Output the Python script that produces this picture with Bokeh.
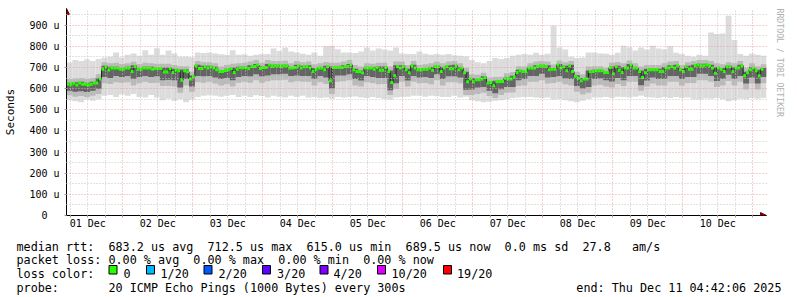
import numpy as np
from bokeh.plotting import figure
from bokeh.models import Range1d, FixedTicker, Arrow, NormalHead, Title
from bokeh.embed import file_html
from bokeh.resources import INLINE
from bokeh.core.properties import value

# ---------------- data ----------------
# time axis in days since 2025-12-01 00:00 ; graph ends Thu Dec 11 04:42:06 2025
END_DAY = 10 + (4 + 42 / 60 + 6 / 3600) / 24
START_DAY = END_DAY - 10
Y_MAX = 955

day_labels = ["01 Dec", "02 Dec", "03 Dec", "04 Dec", "05 Dec",
              "06 Dec", "07 Dec", "08 Dec", "09 Dec", "10 Dec"]

y_ticks = [0, 100, 200, 300, 400, 500, 600, 700, 800, 900]
y_tick_labels = ["0\u00a0\u00a0", "100 u", "200 u", "300 u", "400 u",
                 "500 u", "600 u", "700 u", "800 u", "900 u"]

# hourly median rtt (microseconds), 240 steps
median_us = [
    621, 621, 625, 617, 626, 621, 621, 617, 621, 626, 626,
    645, 692, 703, 688, 697, 697, 697, 692, 692, 697,
    697, 681, 705, 692, 692, 697, 697, 697, 692, 695,
    695, 695, 678, 678, 695, 676, 689, 684, 640, 684,
    680, 645, 656, 708, 695, 695, 703, 697, 703, 697,
    689, 681, 681, 686, 689, 695, 676, 692, 698, 698,
    698, 695, 705, 705, 711, 695, 700, 700, 711, 705,
    708, 708, 705, 708, 708, 697, 697, 700, 708, 697,
    703, 705, 697, 681, 692, 697, 697, 689, 703, 637,
    700, 700, 700, 700, 705, 705, 711, 689, 681, 681,
    675, 697, 697, 697, 692, 700, 687, 687, 700, 681,
    629, 661, 705, 697, 705, 689, 675, 708, 697, 689,
    689, 692, 692, 697, 687, 705, 705, 681, 697, 705,
    694, 694, 708, 689, 697, 675, 632, 645, 632, 642,
    642, 645, 653, 626, 629, 613, 632, 634, 634, 649,
    645, 645, 656, 676, 684, 681, 681, 697, 697, 697,
    705, 708, 708, 705, 689, 692, 692, 711, 697, 703,
    684, 708, 681, 658, 649, 637, 645, 645, 681, 681,
    684, 684, 684, 676, 676, 700, 670, 703, 687, 676,
    697, 697, 711, 697, 697, 681, 653, 675, 689, 689,
    689, 689, 681, 681, 697, 697, 705, 697, 708, 689,
    681, 703, 692, 692, 708, 713, 708, 708, 713, 708,
    697, 673, 697, 692, 681, 703, 703, 681, 697, 697,
    708, 661, 675, 689, 697, 684, 661, 692, np.nan,
]

# smoke (ping spread), 2-hour blocks, 120 steps
smoke_max = [
    723, 735, 731, 739, 731, 740, 747, 750, 771, 747,
    760, 766, 755, 781, 760, 791, 760, 780, 766, 750,
    750, 748, 771, 768, 771, 766, 762, 760, 781, 760,
    762, 755, 760, 763, 763, 790, 778, 794, 775, 771,
    765, 760, 771, 755, 800, 802, 786, 771, 771, 768,
    775, 794, 780, 790, 785, 780, 794, 766, 763, 763,
    775, 765, 760, 763, 760, 763, 758, 755, 752, 735,
    725, 720, 730, 745, 740, 745, 755, 760, 763, 760,
    770, 760, 765, 897, 794, 785, 750, 745, 747, 771,
    771, 766, 765, 760, 770, 802, 796, 780, 794, 785,
    802, 790, 786, 800, 770, 763, 755, 750, 760, 755,
    865, 858, 860, 944, 830, 763, 755, 765, 760, 755,
]
smoke_min = [
    545, 540, 535, 548, 543, 550, 566, 570, 560, 572,
    566, 574, 560, 558, 570, 558, 545, 552, 543, 550,
    535, 548, 560, 566, 568, 566, 562, 566, 570, 560,
    566, 560, 568, 565, 558, 566, 562, 558, 566, 560,
    566, 558, 560, 555, 558, 552, 560, 558, 560, 563,
    558, 555, 560, 556, 551, 548, 558, 560, 562, 566,
    566, 562, 566, 564, 560, 560, 566, 558, 562, 545,
    540, 535, 538, 543, 545, 550, 555, 558, 560, 560,
    558, 555, 558, 548, 551, 545, 540, 535, 543, 551,
    558, 558, 560, 556, 562, 560, 558, 562, 566, 560,
    558, 555, 560, 556, 560, 555, 558, 550, 548, 553,
    552, 556, 550, 540, 545, 552, 550, 556, 552, 555,
]
mid_hi = [
    645, 648, 650, 645, 650, 668, 725, 720, 722, 716,
    720, 727, 716, 722, 720, 718, 718, 718, 712, 706,
    706, 680, 730, 725, 725, 720, 705, 712, 718, 720,
    722, 728, 735, 722, 735, 730, 730, 732, 720, 730,
    725, 728, 715, 720, 726, 722, 722, 728, 735, 712,
    705, 720, 718, 722, 722, 705, 728, 728, 712, 730,
    712, 715, 720, 728, 720, 728, 730, 720, 698, 668,
    665, 675, 652, 655, 656, 672, 678, 706, 704, 720,
    728, 730, 728, 714, 733, 725, 730, 680, 668, 704,
    706, 706, 698, 722, 726, 720, 733, 720, 704, 712,
    712, 712, 720, 728, 730, 712, 725, 730, 735, 735,
    730, 720, 715, 725, 720, 730, 698, 720, 706, 715,
]
mid_lo = [
    568, 562, 565, 560, 566, 575, 625, 622, 630, 628,
    630, 615, 625, 632, 626, 628, 612, 612, 610, 580,
    615, 585, 630, 628, 632, 624, 615, 620, 610, 628,
    632, 628, 640, 628, 635, 640, 640, 642, 630, 635,
    632, 632, 615, 630, 622, 575, 632, 635, 640, 615,
    610, 630, 626, 620, 622, 570, 598, 632, 610, 632,
    625, 626, 620, 640, 615, 630, 630, 625, 570, 570,
    575, 580, 565, 556, 570, 580, 582, 612, 615, 632,
    632, 640, 624, 626, 632, 620, 615, 585, 572, 580,
    615, 618, 610, 605, 622, 612, 632, 632, 590, 610,
    624, 615, 615, 632, 632, 615, 626, 626, 640, 640,
    632, 608, 615, 636, 615, 632, 596, 624, 596, 625,
]
dark_hi = [
    628, 630, 632, 628, 632, 650, 708, 703, 703, 698,
    703, 710, 698, 703, 703, 700, 700, 700, 694, 690,
    690, 662, 713, 708, 708, 703, 688, 694, 700, 703,
    703, 710, 716, 705, 716, 713, 713, 713, 702, 713,
    708, 710, 697, 702, 708, 705, 705, 710, 716, 694,
    686, 702, 702, 705, 705, 686, 710, 710, 694, 713,
    694, 697, 702, 710, 702, 710, 713, 702, 680, 650,
    648, 658, 634, 637, 640, 654, 661, 689, 686, 702,
    710, 713, 710, 697, 716, 708, 713, 663, 650, 686,
    689, 689, 681, 705, 708, 702, 716, 702, 686, 694,
    694, 694, 702, 710, 713, 694, 708, 713, 718, 718,
    713, 702, 697, 708, 702, 713, 680, 702, 689, 697,
]
dark_lo = [
    590, 585, 588, 584, 590, 598, 655, 650, 660, 655,
    660, 645, 655, 660, 655, 658, 640, 642, 640, 605,
    645, 610, 660, 658, 660, 652, 645, 650, 640, 655,
    660, 658, 668, 658, 662, 668, 668, 670, 660, 662,
    660, 660, 645, 660, 652, 600, 662, 662, 668, 645,
    638, 660, 655, 650, 650, 592, 625, 660, 638, 660,
    652, 655, 650, 668, 645, 658, 658, 652, 595, 596,
    605, 608, 590, 578, 597, 608, 608, 640, 645, 660,
    660, 670, 652, 655, 660, 648, 645, 612, 600, 608,
    645, 648, 640, 633, 650, 640, 660, 660, 616, 638,
    652, 645, 645, 660, 660, 645, 655, 655, 670, 670,
    660, 636, 645, 665, 645, 660, 624, 652, 624, 655,
]

loss_labels = ["0", "1/20", "2/20", "3/20", "4/20", "10/20", "19/20"]
loss_colors = ["#26ff00", "#00b8ff", "#0059ff", "#5e00ff", "#7e00ff", "#dd00ff", "#ff0000"]

legend_lines = [
    "median rtt:  683.2 us avg  712.5 us max  615.0 us min  689.5 us now  0.0 ms sd  27.8   am/s",
    "packet loss: 0.00 % avg  0.00 % max  0.00 % min  0.00 % now",
    "loss color:",
    "probe:       20 ICMP Echo Pings (1000 Bytes) every 300s",
]
end_text = "end: Thu Dec 11 04:42:06 2025"
watermark = "RRDTOOL / TOBI OETIKER"

assert len(median_us) == 240
for arr in (smoke_max, smoke_min, mid_hi, mid_lo, dark_hi, dark_lo):
    assert len(arr) == 120

MONO = "DejaVu Sans Mono"
NB = "\u00a0"
LEG_FS = "11.75px"

# ---------------- layout geometry (pixels) ----------------
W = 797
H1 = 238                      # chart part
H2 = 297 - H1                 # legend part
F_LEFT, F_RIGHT, F_TOP, F_BOTTOM = 66, 766, 8, 215
PX_PER_UNIT = 202 / Y_MAX     # 955 us spans 202 px
Y_TOP = (F_BOTTOM - F_TOP) / PX_PER_UNIT

p = figure(width=W, height=H1, x_range=Range1d(START_DAY, END_DAY),
           y_range=Range1d(0, Y_TOP), output_backend="svg", toolbar_location=None,
           min_border_left=F_LEFT, min_border_right=W - F_RIGHT,
           min_border_top=F_TOP, min_border_bottom=H1 - F_BOTTOM,
           outline_line_color=None,
           background_fill_color="white", border_fill_color="white")

hour = np.arange(len(median_us))
h_left = START_DAY + hour / 24.0
h_right = h_left + 1 / 24.0
blk = np.arange(len(smoke_max))
b_left = START_DAY + blk * 2 / 24.0
b_right = b_left + 2 / 24.0

p.quad(left=b_left, right=b_right, bottom=smoke_min, top=smoke_max,
       fill_color="#dcdcdc", line_color=None)
p.quad(left=b_left, right=b_right, bottom=mid_lo, top=mid_hi,
       fill_color="#bababa", line_color=None)
p.quad(left=b_left, right=b_right, bottom=dark_lo, top=dark_hi,
       fill_color="#646464", line_color=None)

med = np.array(median_us, dtype=float)
xs = np.column_stack([h_left, h_right]).ravel()
ys = np.repeat(med, 2)
p.line(xs, ys, line_color="#202020", line_width=1)
p.segment(x0=h_left, y0=med, x1=h_right, y1=med, line_color=loss_colors[0],
          line_width=3, line_cap="butt")

# grids
major_days = list(range(1, 11))
minor_days = [k / 4 for k in range(1, 41) if k % 4 != 0]
p.xgrid.ticker = FixedTicker(ticks=major_days, minor_ticks=minor_days)
p.ygrid.ticker = FixedTicker(ticks=y_ticks[1:], minor_ticks=[v + 50 for v in y_ticks])
for g in (p.xgrid[0], p.ygrid[0]):
    g.grid_line_color = "#eaa0a0"
    g.grid_line_dash = "1 2"
    g.grid_line_width = 1
    g.minor_grid_line_color = "#c4c4c4"
    g.minor_grid_line_dash = "1 2"
    g.minor_grid_line_width = 1
    g.level = "overlay"

# axes
label_pos = [d + 0.5 for d in range(len(day_labels))]
xa = p.xaxis[0]
xa.ticker = FixedTicker(ticks=label_pos, minor_ticks=sorted(minor_days + major_days))
xa.major_label_overrides = {pos: lab for pos, lab in zip(label_pos, day_labels)}
xa.major_tick_line_color = None
xa.major_tick_in = 0
xa.major_tick_out = 0
xa.minor_tick_in = 0
xa.minor_tick_out = 2
xa.minor_tick_line_color = "#999999"
xa.major_label_standoff = 0
xa.major_label_text_font = MONO
xa.major_label_text_font_size = "10px"
xa.major_label_text_color = "black"
xa.axis_line_color = "black"

ya = p.yaxis[0]
ya.ticker = FixedTicker(ticks=y_ticks)
ya.major_label_overrides = {t: lab for t, lab in zip(y_ticks, y_tick_labels)}
ya.major_tick_in = 0
ya.major_tick_out = 2
ya.major_tick_line_color = "#999999"
ya.minor_tick_line_color = None
ya.major_label_standoff = 5
ya.major_label_text_font = MONO
ya.major_label_text_font_size = "10px"
ya.major_label_text_color = "black"
ya.axis_label = "Seconds"
ya.axis_label_text_font = MONO
ya.axis_label_text_font_size = "11px"
ya.axis_label_text_font_style = "normal"
ya.axis_label_text_color = "black"
ya.axis_label_standoff = 9
ya.axis_line_color = "black"

# axis arrow heads (drawn at the frame edges)
p.add_layout(Arrow(end=NormalHead(size=6, fill_color="#7f0000", line_color="#7f0000"),
                   x_start=END_DAY - 0.02, y_start=0, x_end=END_DAY, y_end=0,
                   line_color="black", line_width=1))
p.add_layout(Arrow(end=NormalHead(size=6, fill_color="#7f0000", line_color="#7f0000"),
                   x_start=START_DAY, y_start=Y_TOP - 10, x_end=START_DAY, y_end=Y_TOP,
                   line_color="black", line_width=1))

# watermark on the right side
p.add_layout(Title(text=watermark, align="left", text_font=MONO,
                   text_font_size="8.2px", text_color="#b0b0b0",
                   text_font_style="normal", standoff=17), "right")

# ---------------- legend block (own canvas, pixel coordinates) ----------------
p2 = figure(width=W, height=H2, x_range=Range1d(0, W), y_range=Range1d(H2, 0),
            output_backend="svg", toolbar_location=None, x_axis_type=None,
            y_axis_type=None, min_border=0, min_border_left=0, min_border_right=0,
            min_border_top=0, min_border_bottom=0, outline_line_color=None,
            background_fill_color="white", border_fill_color="white")

line_base = [b - H1 for b in (246.0, 259.6, 273.4, 287.3)]
text_kw = dict(text_font=value(MONO), text_font_size=LEG_FS,
               text_baseline="alphabetic", text_color="black")
p2.text(x=[16] * 4, y=line_base, text=[s.replace(" ", NB) for s in legend_lines],
        text_align="left", **text_kw)
p2.text(x=[781], y=[line_base[3]], text=[end_text.replace(" ", NB)],
        text_align="right", **text_kw)

box_x = [108.5, 146, 203.5, 262, 319.5, 377, 443]
lab_x = [123, 160, 218, 276.5, 333, 391, 456.5]
p2.quad(left=box_x, right=[b + 8 for b in box_x], top=[265 - H1] * 7,
        bottom=[273.5 - H1] * 7, fill_color=loss_colors, line_color="black",
        line_width=1)
p2.text(x=lab_x, y=[line_base[2]] * 7, text=loss_labels, text_align="left", **text_kw)

open("out.html", "w").write(file_html([p, p2], INLINE))
